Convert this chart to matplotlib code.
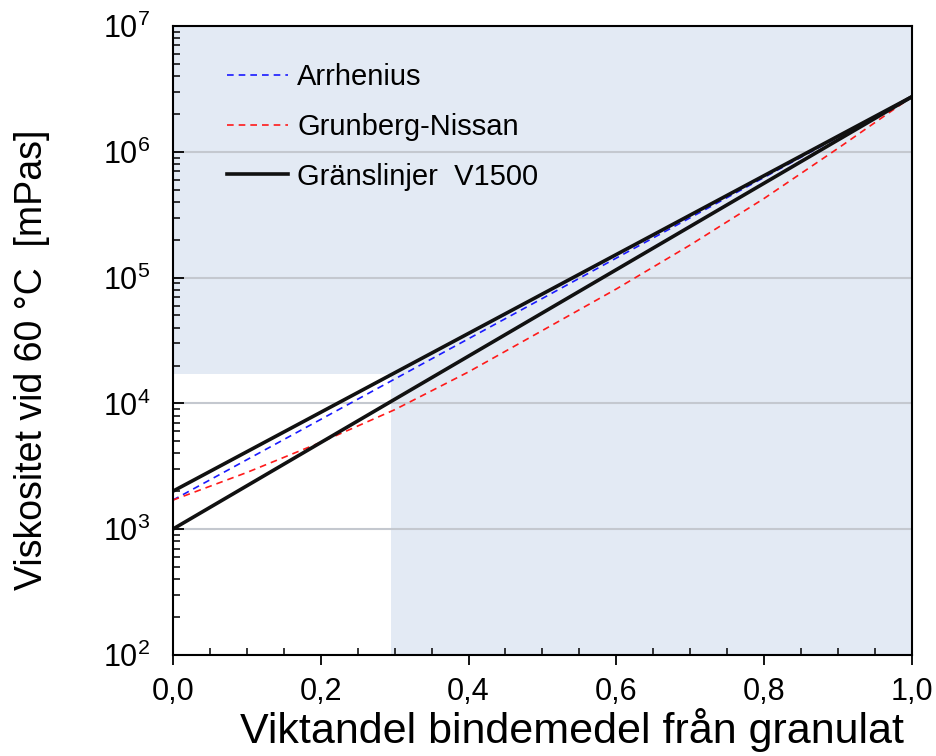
import matplotlib
matplotlib.use('Agg')
import matplotlib.pyplot as plt
import numpy as np
from matplotlib.ticker import FixedLocator, LogLocator, NullFormatter

plt.rcParams['font.family'] = ['Liberation Sans', 'DejaVu Sans']
plt.rcParams['mathtext.fontset'] = 'custom'
plt.rcParams['mathtext.rm'] = 'Liberation Sans'

# viktandel bindemedel fran granulat
x_ends = [0.0, 1.0]
arrhenius = [1700, 2.75e6]
upper_limit = [2000, 2.75e6]
lower_limit = [1000, 2.75e6]

x_gn = [0.0, 0.1, 0.2, 0.3, 0.4, 0.5, 0.6, 0.7, 0.8, 0.9, 1.0]
grunberg_nissan = [1700, 2820, 4900, 8900, 17800, 38000, 81300, 182000, 427000, 1070000, 2750000]

# omrade utan skuggning (nedre vanstra hornet)
white_x = [0.0, 0.295]
white_top = 1.7e4

x_ticks = [0.0, 0.2, 0.4, 0.6, 0.8, 1.0]
x_tick_labels = ['0,0', '0,2', '0,4', '0,6', '0,8', '1,0']

fig = plt.figure(figsize=(9.37, 7.56), dpi=100)
ax = fig.add_axes([0.1843, 0.1336, 0.7893, 0.832])
ax.set_facecolor('#e3eaf4')
ax.set_yscale('log')
ax.set_xlim(0, 1)
ax.set_ylim(1e2, 1e7)

ax.fill_between(white_x, 1e2, white_top, color='white', lw=0, zorder=0.5)
ax.yaxis.grid(True, which='major', color='#c4c8cf', lw=1.5, zorder=0.6)
ax.set_axisbelow(True)

ax.plot(x_ends, arrhenius, color='#1a1aff', lw=1.2, dashes=(4, 3), label='Arrhenius', zorder=3)
ax.plot(x_gn, grunberg_nissan, color='#ff1a1a', lw=1.2, dashes=(4, 3), label='Grunberg-Nissan', zorder=3)
ax.plot(x_ends, upper_limit, color='#111111', lw=2.6, label='Gränslinjer  V1500', zorder=4)
ax.plot(x_ends, lower_limit, color='#111111', lw=2.6, zorder=4)

for s in ax.spines.values():
    s.set_linewidth(1.5)
    s.set_zorder(5)

ax.xaxis.set_major_locator(FixedLocator(x_ticks))
ax.set_xticklabels(x_tick_labels)
ax.xaxis.set_minor_locator(FixedLocator(np.arange(0, 1.001, 0.05)))
ax.tick_params(axis='x', which='major', direction='out', length=7, width=1.3, labelsize=22, pad=9)
ax.tick_params(axis='x', which='minor', direction='in', length=5, width=1.1)
ax.yaxis.set_major_locator(LogLocator(base=10, numticks=10))
ax.yaxis.set_minor_locator(LogLocator(base=10, subs=np.arange(2, 10), numticks=20))
ax.yaxis.set_minor_formatter(NullFormatter())
ax.tick_params(axis='y', which='major', direction='in', length=8, width=1.3, labelsize=22, pad=16)
ax.tick_params(axis='y', which='minor', direction='in', length=5, width=1.1)

ax.set_xlabel('Viktandel bindemedel från granulat', fontsize=31)
ax.xaxis.set_label_coords(0.54, -0.085)
ax.set_ylabel('Viskositet vid 60 °C  [mPas]', fontsize=27)
ax.yaxis.set_label_coords(-0.166, 0.47)

leg = ax.legend(loc='upper left', bbox_to_anchor=(0.038, 0.983), frameon=False, fontsize=21,
                handlelength=2.1, handletextpad=0.3, labelspacing=0.75)

fig.savefig('out.png', dpi=100)
